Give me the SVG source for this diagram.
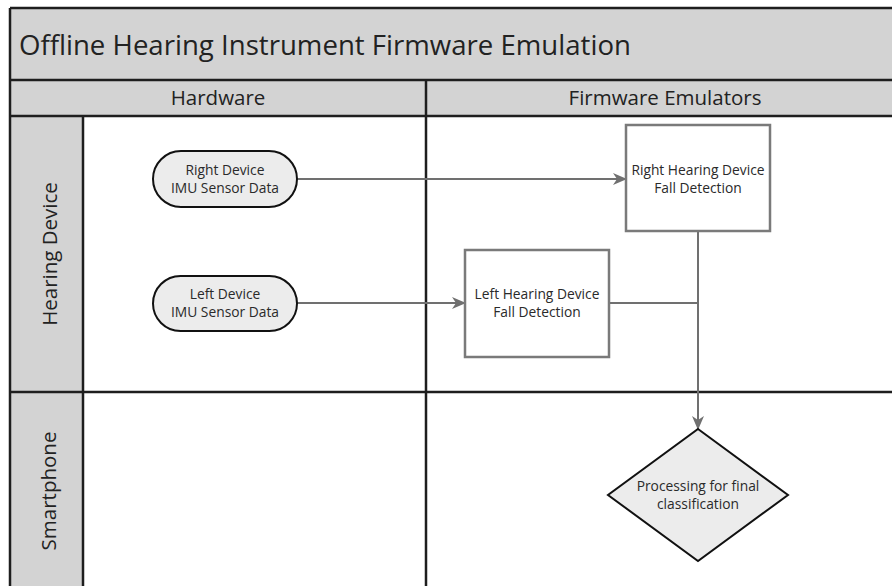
<svg xmlns="http://www.w3.org/2000/svg" width="892" height="586" viewBox="0 0 892 586">
  <defs>
    <style>
      .band { fill: #d3d3d3; }
      .cell { fill: #ffffff; }
      .grid { stroke: #1e1e1e; stroke-width: 2.5; fill: none; }
      .title { font-family: "Open Sans", "Liberation Sans", sans-serif; font-size: 27.6px; fill: #222222; }
      .hdr { font-family: "Open Sans", "Liberation Sans", sans-serif; font-size: 20.5px; fill: #222222; text-anchor: middle; }
      .lbl { font-family: "Open Sans", "Liberation Sans", sans-serif; font-size: 13.8px; fill: #2a2a2a; text-anchor: middle; }
      .terminal { fill: #ececec; stroke: #111111; stroke-width: 2; }
      .proc { fill: #ffffff; stroke: #7a7a7a; stroke-width: 2.5; }
      .decision { fill: #ececec; stroke: #111111; stroke-width: 2; }
      .conn { stroke: #707070; stroke-width: 2; fill: none; }
    </style>
    <marker id="arrow" markerUnits="userSpaceOnUse" markerWidth="14" markerHeight="12" refX="13" refY="6" orient="auto">
      <path d="M0,0 L14,6 L0,12 L4,6 Z" fill="#707070"/>
    </marker>
  </defs>

  <g id="swimlanes">
    <rect class="cell" x="0" y="0" width="892" height="586"/>
    <rect class="band" x="10" y="8" width="900" height="72"/>
    <rect class="band" x="10" y="80" width="900" height="36"/>
    <rect class="band" x="10" y="116" width="73" height="480"/>
    <path class="grid" d="M10,8 H910 M10,8 V596 M10,80 H910 M10,116 H910 M10,392 H910 M83,116 V596 M426,80 V596"/>
    <text class="title" x="19" y="55">Offline Hearing Instrument Firmware Emulation</text>
    <text class="hdr" x="218" y="105">Hardware</text>
    <text class="hdr" x="665" y="105">Firmware Emulators</text>
    <text class="hdr" transform="translate(57,254) rotate(-90)">Hearing Device</text>
    <text class="hdr" transform="translate(56,491) rotate(-90)">Smartphone</text>
  </g>

  <g id="connectors">
    <path class="conn" d="M297,179 H626" marker-end="url(#arrow)"/>
    <path class="conn" d="M297,303 H465" marker-end="url(#arrow)"/>
    <path class="conn" d="M609,303 H698"/>
    <path class="conn" d="M698,231 V429" marker-end="url(#arrow)"/>
  </g>

  <g id="right-imu">
    <rect class="terminal" x="153" y="151" width="144" height="56" rx="28" ry="28"/>
    <text class="lbl" x="225" y="175">Right Device</text>
    <text class="lbl" x="225" y="193">IMU Sensor Data</text>
  </g>

  <g id="left-imu">
    <rect class="terminal" x="153" y="276" width="144" height="55" rx="27.5" ry="27.5"/>
    <text class="lbl" x="225" y="299">Left Device</text>
    <text class="lbl" x="225" y="317">IMU Sensor Data</text>
  </g>

  <g id="right-fall">
    <rect class="proc" x="626" y="125" width="144" height="106"/>
    <text class="lbl" x="698" y="175">Right Hearing Device</text>
    <text class="lbl" x="698" y="193">Fall Detection</text>
  </g>

  <g id="left-fall">
    <rect class="proc" x="465" y="250" width="144" height="107"/>
    <text class="lbl" x="537" y="299">Left Hearing Device</text>
    <text class="lbl" x="537" y="317">Fall Detection</text>
  </g>

  <g id="processing">
    <polygon class="decision" points="698,429 788,495 698,561 608,495"/>
    <text class="lbl" x="698" y="491">Processing for final</text>
    <text class="lbl" x="698" y="509">classification</text>
  </g>
</svg>
